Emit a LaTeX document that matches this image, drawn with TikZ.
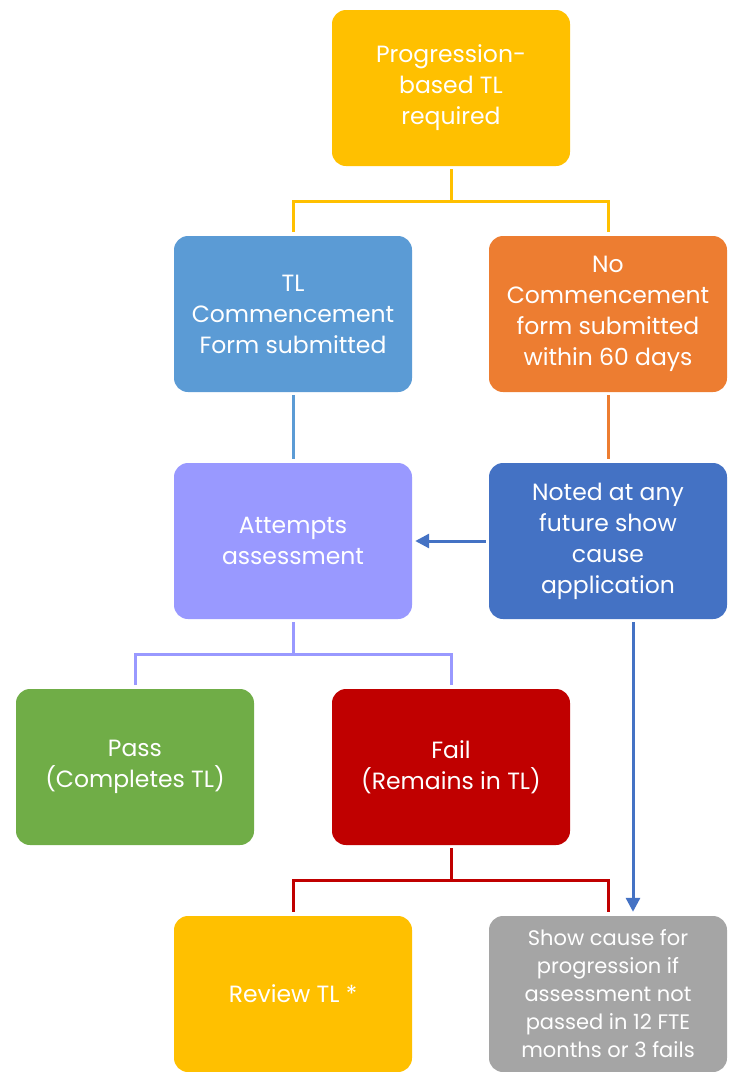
\documentclass[tikz,border=0pt]{standalone}
\usepackage{fontspec}
\setmainfont{Poppins}
\usepackage{tikz}
\usetikzlibrary{arrows.meta,positioning}
\definecolor{amarillo}{HTML}{FFC000}
\definecolor{azulClaro}{HTML}{5B9BD5}
\definecolor{naranja}{HTML}{ED7D31}
\definecolor{lila}{HTML}{9999FF}
\definecolor{azulOscuro}{HTML}{4472C4}
\definecolor{verde}{HTML}{70AD47}
\definecolor{rojo}{HTML}{C00000}
\definecolor{gris}{HTML}{A5A5A5}
\tikzstyle{box}  =[rectangle, rounded corners=14pt, inner sep=0pt,
                   minimum width=238pt, minimum height=156pt,
                   align=center, text=white,
                   font=\fontsize{23.5}{31}\selectfont]
\tikzstyle{link} =[line width=3pt, shorten <=3pt, shorten >=4pt]
\tikzstyle{arrow}=[line width=3pt, -{Triangle[length=14pt,width=14pt]}]

\begin{document}
\begin{tikzpicture}[x=1pt,y=-1pt]
\useasboundingbox (0,0) rectangle (736,1072);
%%%%%%%%%%%%%%%%%%%%%%%%%%%%%%%%%%%%%%%%%%%%%%%%
%%%%%%%%%%            Boxes           %%%%%%%%%%
%%%%%%%%%%%%%%%%%%%%%%%%%%%%%%%%%%%%%%%%%%%%%%%%
\node (req)    [box,fill=amarillo]   at (451,88) {Progression-\\based TL\\required};
\node (tl)     [box,fill=azulClaro]  at (293,314) {TL\\Commencement\\Form submitted};
\node (no)     [box,fill=naranja]    at (608,314) {No\\Commencement\\form submitted\\within 60 days};
\node (att)    [box,fill=lila]       at (293,541) {Attempts\\assessment};
\node (noted)  [box,fill=azulOscuro] at (608,541) {Noted at any\\future show\\cause\\application};
\node (pass)   [box,fill=verde]      at (135,767) {Pass\\(Completes TL)};
\node (fail)   [box,fill=rojo]       at (451,767) {Fail\\(Remains in TL)};
\node (review) [box,fill=amarillo]   at (293,994) {Review TL *};
\node (show)   [box,fill=gris,font=\fontsize{21}{28}\selectfont]
               at (608,994) {Show cause for\\progression if\\assessment not\\passed in 12 FTE\\months or 3 fails};

%%%%%%%%%%%%%%%%%%%%%%%%%%%%%%%%%%%%%%%%%%%%%%%%
%%%%%%%%%%         Connectors         %%%%%%%%%%
%%%%%%%%%%%%%%%%%%%%%%%%%%%%%%%%%%%%%%%%%%%%%%%%
\draw [link,amarillo] (req.south) -- ++(0,35) -| (tl.north);
\draw [link,amarillo] (req.south) -- ++(0,35) -| (no.north);
\draw [link,azulClaro] (tl) -- (att);
\draw [link,naranja] (no) -- (noted);
\draw [link,lila] (att.south) -- ++(0,35) -| (pass.north);
\draw [link,lila] (att.south) -- ++(0,35) -| (fail.north);
\draw [link,rojo] (fail.south) -- ++(0,35) -| (review.north);
\draw [link,rojo] (fail.south) -- ++(0,35) -| (show.north);

\draw [arrow,azulOscuro,shorten <=3pt,shorten >=3pt] (noted) -- (att);
\draw [arrow,azulOscuro,shorten <=3pt,shorten >=4pt]
      ([xshift=25pt]noted.south) -- ([xshift=25pt]show.north);
\end{tikzpicture}
\end{document}
